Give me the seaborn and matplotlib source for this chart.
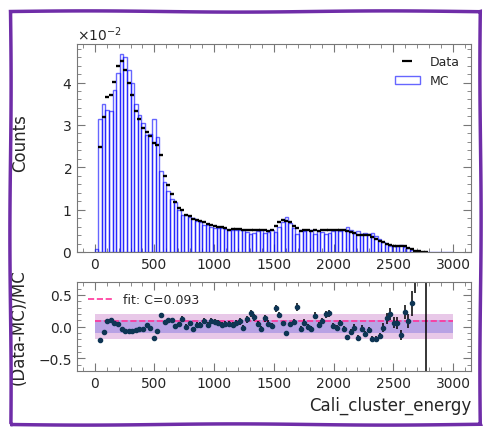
import numpy as np
import pandas as pd
import seaborn as sns
import matplotlib.pyplot as plt
from matplotlib.ticker import MultipleLocator, ScalarFormatter
from matplotlib.patches import Rectangle
from matplotlib.lines import Line2D

# 100 bins of width 30 between 0 and 3000
edges = np.arange(0, 3001, 30)
centers = edges[:-1] + 15

# normalised counts, in units of 1e-2
data_counts = [
    0.0, 2.47, 3.18, 3.66, 3.70, 4.01, 4.39, 4.51, 4.29, 4.00,
    3.70, 3.32, 3.14, 2.92, 2.83, 2.73, 2.58, 2.53, 2.28, 1.79,
    1.57, 1.37, 1.19, 1.03, 0.99, 0.87, 0.86, 0.78, 0.76, 0.72,
    0.70, 0.65, 0.64, 0.61, 0.60, 0.58, 0.57, 0.53, 0.54, 0.55,
    0.55, 0.52, 0.53, 0.52, 0.51, 0.52, 0.51, 0.51, 0.50, 0.52,
    0.61, 0.70, 0.75, 0.74, 0.70, 0.62, 0.56, 0.50, 0.52, 0.51,
    0.50, 0.51, 0.50, 0.51, 0.52, 0.53, 0.51, 0.52, 0.53, 0.51,
    0.49, 0.48, 0.44, 0.41, 0.41, 0.40, 0.40, 0.36, 0.31, 0.27,
    0.24, 0.20, 0.17, 0.15, 0.14, 0.14, 0.14, 0.10, 0.06, 0.035,
    0.018, 0.01, 0.005, 0, 0, 0, 0, 0, 0, 0,
]
mc_counts = [
    0.06, 3.13, 3.50, 3.36, 3.33, 3.82, 4.22, 4.68, 4.61, 4.30,
    3.98, 3.49, 3.24, 3.04, 2.75, 2.79, 3.15, 2.72, 1.92, 1.66,
    1.43, 1.25, 1.18, 0.99, 0.88, 0.87, 0.82, 0.81, 0.74, 0.70,
    0.64, 0.63, 0.59, 0.565, 0.566, 0.563, 0.548, 0.51, 0.524, 0.524,
    0.509, 0.528, 0.475, 0.431, 0.446, 0.501, 0.527, 0.452, 0.477, 0.514,
    0.474, 0.593, 0.712, 0.819, 0.675, 0.577, 0.430, 0.522, 0.489, 0.51,
    0.522, 0.436, 0.49, 0.468, 0.435, 0.438, 0.504, 0.528, 0.503, 0.527,
    0.587, 0.525, 0.447, 0.498, 0.424, 0.456, 0.425, 0.444, 0.383, 0.318,
    0.244, 0.177, 0.142, 0.141, 0.133, 0.162, 0.114, 0.092, 0.044, 0.018,
    0.005, 0.002, 0.0002, 0, 0, 0, 0, 0, 0, 0,
]
n_data = 163000
n_mc = 200000
fit_C = 0.093

data = np.array(data_counts) * 1e-2
mc = np.array(mc_counts) * 1e-2

with np.errstate(divide='ignore', invalid='ignore'):
    ratio = np.where(mc > 0, (data - mc) / mc, np.nan)
    rel = np.sqrt(1 / (data * n_data) + 1 / (mc * n_mc))
    err = np.where((mc > 0) & (data > 0), (data / mc) * rel, 0)

df = pd.DataFrame({'x': centers, 'data': data, 'mc': mc, 'ratio': ratio, 'err': err})

sns.set_style('ticks')
plt.rcParams['font.family'] = ['DejaVu Sans']

fig = plt.figure(figsize=(4.89, 4.31), dpi=100)
ax1 = fig.add_axes([0.157, 0.413, 0.806, 0.483])
ax2 = fig.add_axes([0.157, 0.137, 0.806, 0.206])

sns.histplot(data=df, x='x', weights='mc', bins=len(centers), binrange=(0, 3000),
             fill=False, element='bars', color='blue', alpha=0.6, linewidth=1.0, ax=ax1)
pts = df[df['data'] > 0]
ax1.plot(pts['x'], pts['data'], ls='none', marker='_', ms=3.5, mew=1.7, color='k')

ax1.set_xlim(-150, 3150)
ax1.set_ylim(0, None)
ax1.set_xlabel('')
ax1.set_ylabel('Counts', fontsize=12)
ax1.yaxis.set_label_coords(-0.122, 0.53)
fmt = ScalarFormatter(useMathText=True)
fmt.set_powerlimits((0, 0))
ax1.yaxis.set_major_formatter(fmt)
ax1.yaxis.get_offset_text().set_fontsize(10)
ax1.yaxis.set_major_locator(MultipleLocator(0.01))
ax1.yaxis.set_minor_locator(MultipleLocator(0.002))

handles = [Line2D([], [], ls='none', marker='_', ms=7, mew=1.6, color='k'),
           Rectangle((0, 0), 1, 1, facecolor='none', edgecolor='blue', alpha=0.6)]
ax1.legend(handles, ['Data', 'MC'], loc='upper right', frameon=False, fontsize=9)

# ratio panel
ax2.fill_between([0, 3000], -0.2, 0.2, color='#e8c8e8', lw=0)
ax2.fill_between([0, 3000], -0.1, 0.1, color='#b8a2e4', lw=0)
ax2.hlines(fit_C, 0, 3000, colors='#ff3399', linestyles='--', lw=1.2,
           label=f'fit: C={fit_C}')
ax2.errorbar(df['x'], df['ratio'], yerr=df['err'], fmt='o', ms=3,
             color='#0e3554', ecolor='k', elinewidth=1.1, capsize=0)
ax2.set_xlim(-150, 3150)
ax2.set_ylim(-0.7, 0.7)
ax2.set_ylabel('(Data-MC)/MC', fontsize=12)
ax2.yaxis.set_label_coords(-0.125, 0.5)
ax2.set_xlabel('Cali_cluster_energy', fontsize=12, loc='right')
ax2.yaxis.set_major_locator(MultipleLocator(0.5))
ax2.yaxis.set_minor_locator(MultipleLocator(0.1))
ax2.legend(loc='upper left', frameon=False, fontsize=9)

for ax in (ax1, ax2):
    ax.xaxis.set_major_locator(MultipleLocator(500))
    ax.xaxis.set_minor_locator(MultipleLocator(100))
    ax.tick_params(which='both', direction='in', top=True, right=True,
                   color='#777777', labelsize=10)
    ax.tick_params(which='major', length=6)
    ax.tick_params(which='minor', length=3)
    for s in ax.spines.values():
        s.set_color('#777777')

# hand-drawn purple frame around the figure
frame = Rectangle((10 / 489, 1 - 425 / 431), 470 / 489, 413 / 431,
                  transform=fig.transFigure, fill=False, edgecolor='#6f2da8', lw=2.5)
frame.set_sketch_params(0.6, 300, 1.0)
fig.add_artist(frame)

fig.savefig('out.png', dpi=100)
